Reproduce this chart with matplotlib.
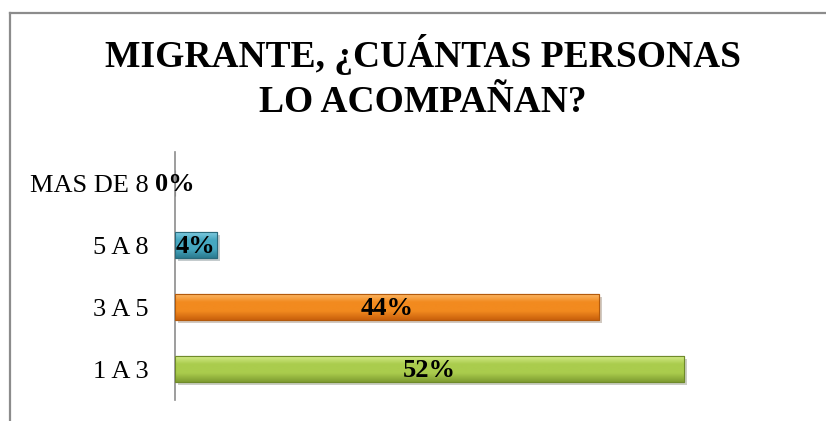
import numpy as np
import matplotlib
matplotlib.use("Agg")
import matplotlib.pyplot as plt
import matplotlib.patheffects as pe
from matplotlib.colors import LinearSegmentedColormap
from matplotlib.lines import Line2D

# data
CATEGORIES = ["1 A 3", "3 A 5", "5 A 8", "MAS DE 8"]
PERCENTS = [52.2, 43.5, 4.3, 0.0]
TITLE = "MIGRANTE, ¿CUÁNTAS PERSONAS\nLO ACOMPAÑAN?"

# excel-like gradient per bar (top, middle, bottom)
GRADIENTS = [
    ("#d8ee8e", "#aacc4d", "#7f9d31"),
    ("#fcbb6c", "#f28a1f", "#c9600c"),
    ("#86cfe3", "#46a7c0", "#2b7a8f"),
    ("#cccccc", "#aaaaaa", "#888888"),
]
EDGES = ["#6f8a2a", "#b35a0c", "#2a6a7c", "#777777"]

plt.rcParams['font.family'] = ['Liberation Serif', 'DejaVu Serif']

fig = plt.figure(figsize=(8.26, 4.21), dpi=100)
ax = fig.add_axes([175 / 826, 21 / 421, 585 / 826, 248 / 421])

y = np.arange(len(CATEGORIES))
bars = ax.barh(y, PERCENTS, height=0.42, color=[g[1] for g in GRADIENTS],
               edgecolor=EDGES, linewidth=0.8, zorder=2)

for bar, grad in zip(bars, GRADIENTS):
    if bar.get_width() <= 0:
        continue
    bar.set_path_effects([pe.SimplePatchShadow(offset=(2, -2), alpha=0.25), pe.Normal()])
    cmap = LinearSegmentedColormap.from_list("g", [grad[0], grad[1], grad[1], grad[2]])
    x0, y0 = bar.get_x(), bar.get_y()
    im = ax.imshow(np.linspace(0, 1, 64).reshape(-1, 1), cmap=cmap, aspect="auto",
                   extent=(x0, x0 + bar.get_width(), y0, y0 + bar.get_height()),
                   origin="upper", zorder=3)
    im.set_clip_path(bar)
    ax.barh(bar.get_y() + bar.get_height() / 2, bar.get_width(), height=bar.get_height(),
            fill=False, edgecolor=bar.get_edgecolor(), linewidth=0.8, zorder=4)

for yi, v in zip(y, PERCENTS):
    ax.text(v / 2, yi - 0.02, f"{v:.0f}%", ha="center", va="center",
            fontsize=19, fontweight="bold", color="black", zorder=5)

ax.set_xlim(0, 60)
ax.set_ylim(-0.5, len(CATEGORIES) - 0.5)
ax.set_yticks(y)
ax.set_yticklabels(CATEGORIES, fontsize=19)
ax.tick_params(axis="y", length=0, pad=19)
ax.set_xticks([])
for s in ["top", "right", "bottom"]:
    ax.spines[s].set_visible(False)
ax.spines["left"].set_color("#8c8c8c")
ax.spines["left"].set_linewidth(1.2)

fig.text(423 / 826, 0.817, TITLE, ha="center", va="center", fontsize=27,
         fontweight="bold", linespacing=1.36)

# outer chart frame (left and top visible)
fl = 9.5 / 826
ft = 1 - 12.5 / 421
fig.add_artist(Line2D([fl, fl], [0, ft], transform=fig.transFigure, color="#8c8c8c", lw=1.6))
fig.add_artist(Line2D([fl, 1], [ft, ft], transform=fig.transFigure, color="#8c8c8c", lw=1.6))

fig.savefig("out.png", dpi=100)
